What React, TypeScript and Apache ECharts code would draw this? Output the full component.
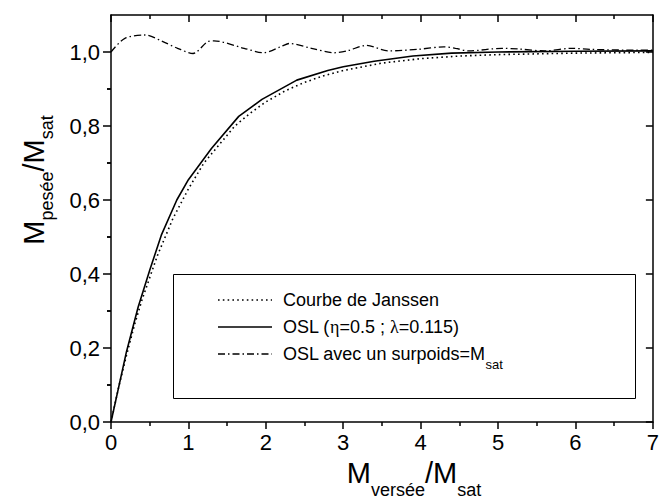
import React, { useEffect, useRef } from "react";
import * as echarts from "echarts";

// ---------- data ----------
const janssenX = [0, 0.1, 0.2, 0.3, 0.4, 0.5, 0.6, 0.7, 0.8, 0.9, 1.0, 1.2, 1.4, 1.6, 1.8, 2.0, 2.25, 2.5, 2.75, 3.0, 3.5, 4.0, 4.5, 5.0, 5.5, 6.0, 6.5, 7.0];
const janssenY = [0, 0.095, 0.18, 0.26, 0.33, 0.39, 0.45, 0.5, 0.55, 0.59, 0.63, 0.7, 0.75, 0.8, 0.835, 0.865, 0.895, 0.918, 0.936, 0.95, 0.97, 0.982, 0.989, 0.993, 0.995, 0.997, 0.998, 0.999];

const oslX = [0, 0.1, 0.2, 0.35, 0.5, 0.65, 0.85, 1.0, 1.3, 1.65, 1.95, 2.4, 2.8, 3.0, 3.4, 3.9, 4.4, 5.0, 6.0, 7.0];
const oslY = [0, 0.095, 0.19, 0.31, 0.41, 0.505, 0.6, 0.655, 0.74, 0.826, 0.872, 0.924, 0.95, 0.96, 0.975, 0.989, 0.997, 1.0, 1.002, 1.003];

const surpoidsX = [0, 0.18, 0.44, 0.67, 0.86, 1.06, 1.25, 1.33, 1.72, 1.97, 2.21, 2.3, 2.59, 2.89, 3.05, 3.3, 3.58, 3.96, 4.3, 4.45, 4.62, 5.05, 5.27, 5.6, 5.95, 6.2, 6.8, 7.0];
const surpoidsY = [1.0, 1.037, 1.046, 1.028, 1.01, 0.996, 1.028, 1.03, 1.01, 0.998, 1.016, 1.023, 1.01, 0.998, 1.003, 1.018, 1.003, 1.007, 1.014, 1.01, 1.003, 1.01, 1.008, 1.003, 1.01, 1.007, 1.005, 1.005];

const yTicks = [0, 0.2, 0.4, 0.6, 0.8, 1.0];
const yMinorTicks = [0.1, 0.3, 0.5, 0.7, 0.9];

const legendJanssen = "Courbe de Janssen";
const legendOslParts = ["OSL (", "η", "=0.5 ; ", "λ", "=0.115)"];
const legendSurpoids = "OSL avec un surpoids=M";
const subSat = "sat";
const xTitleParts = ["M", "versée", "/M", "sat"];
const yTitleParts = ["M", "pesée", "/M", "sat"];

// ---------- layout ----------
const W = 662;
const H = 501;
const FONT = "'Liberation Sans', Arial, Helvetica, sans-serif";
const SERIF = "'Liberation Serif', 'Times New Roman', serif";
const GRID = { left: 111, top: 15, right: 5, bottom: 79 };

function measure(text: string, size: number, family: string = FONT): number {
  const ctx = document.createElement("canvas").getContext("2d")!;
  ctx.font = `${size}px ${family}`;
  return ctx.measureText(text).width;
}

const BL = 0.35; // baseline offset from middle, in em

function subTitleChildren(parts: string[], big: number, small: number, drop: number) {
  const widths = parts.map((p, i) => measure(p, i % 2 === 0 ? big : small));
  const total = widths.reduce((a, b) => a + b, 0);
  let x = -total / 2;
  const children: any[] = [];
  parts.forEach((p, i) => {
    const isSub = i % 2 === 1;
    const fs = isSub ? small : big;
    const baseline = isSub ? drop : 0;
    children.push({
      type: "text",
      x,
      y: baseline - BL * fs,
      style: { text: p, fontSize: fs, fontFamily: FONT, fill: "#000", align: "left", verticalAlign: "middle" },
    });
    x += widths[i];
  });
  return children;
}

export default function App() {
  const ref = useRef<HTMLDivElement>(null);

  useEffect(() => {
    const chart = echarts.init(ref.current!, null, { renderer: "svg" });

    const axisCommon = {
      type: "value" as const,
      axisLine: { show: true, onZero: false, lineStyle: { color: "#000", width: 1.5 } },
      splitLine: { show: false },
      minorSplitLine: { show: false },
    };
    const tickStyle = { color: "#000", width: 1.5 };
    const fmt = (v: number) => v.toFixed(1).replace(".", ",");
    const tickFs = 22;

    // legend
    const legX = 173.5, legY = 274.5, legW = 462, legH = 124;
    const rows = [300, 327, 354];
    const lineX1 = 218, lineX2 = 272, textX = 283, legFs = 18;
    const legendChildren: any[] = [
      { type: "rect", shape: { x: legX, y: legY, width: legW, height: legH }, style: { fill: "#fff", stroke: "#000", lineWidth: 1 } },
      { type: "line", shape: { x1: lineX1, y1: rows[0], x2: lineX2, y2: rows[0] }, style: { stroke: "#000", lineWidth: 1.6, lineDash: [1.6, 3.2] } },
      { type: "line", shape: { x1: lineX1, y1: rows[1], x2: lineX2, y2: rows[1] }, style: { stroke: "#000", lineWidth: 1.6 } },
      { type: "line", shape: { x1: lineX1, y1: rows[2], x2: lineX2, y2: rows[2] }, style: { stroke: "#000", lineWidth: 1.3, lineDash: [7, 3, 1.5, 3] } },
      { type: "text", x: textX, y: rows[0], style: { text: legendJanssen, fontSize: legFs, fontFamily: FONT, fill: "#000", verticalAlign: "middle" } },
    ];
    let ox = textX;
    legendOslParts.forEach((p, i) => {
      const fam = i % 2 === 1 ? SERIF : FONT;
      legendChildren.push({ type: "text", x: ox, y: rows[1], style: { text: p, fontSize: legFs, fontFamily: fam, fill: "#000", verticalAlign: "middle" } });
      ox += measure(p, legFs, fam);
    });
    legendChildren.push({ type: "text", x: textX, y: rows[2], style: { text: legendSurpoids, fontSize: legFs, fontFamily: FONT, fill: "#000", verticalAlign: "middle" } });
    const sw = measure(legendSurpoids, legFs);
    legendChildren.push({ type: "text", x: textX + sw, y: rows[2] + BL * legFs + 9 - BL * 13, style: { text: subSat, fontSize: 13, fontFamily: FONT, fill: "#000", verticalAlign: "middle" } });

    const option: any = {
      animation: false,
      backgroundColor: "#fff",
      grid: { ...GRID, containLabel: false },
      xAxis: [
        {
          ...axisCommon,
          position: "bottom",
          min: 0,
          max: 7,
          interval: 1,
          axisTick: { show: true, inside: false, length: 7, lineStyle: tickStyle },
          minorTick: { show: true, splitNumber: 2, length: 4, lineStyle: tickStyle },
          axisLabel: { show: true, color: "#000", fontSize: tickFs, fontFamily: FONT, margin: 9 },
        },
        {
          ...axisCommon,
          position: "top",
          min: 0,
          max: 7,
          interval: 1,
          axisTick: { show: true, inside: true, length: 7, lineStyle: tickStyle },
          minorTick: { show: true, splitNumber: 2, length: 4, lineStyle: tickStyle },
          axisLabel: { show: false },
        },
      ],
      yAxis: [
        {
          ...axisCommon,
          position: "left",
          min: 0,
          max: 1.1,
          axisTick: { show: true, inside: false, length: 8, lineStyle: tickStyle, customValues: yTicks },
          axisLabel: { show: true, color: "#000", fontSize: tickFs, fontFamily: FONT, margin: 11, customValues: yTicks, formatter: fmt },
        },
        {
          ...axisCommon,
          position: "left",
          min: 0,
          max: 1.1,
          axisLine: { show: false },
          axisTick: { show: true, inside: false, length: 4, lineStyle: tickStyle, customValues: yMinorTicks },
          axisLabel: { show: false, customValues: yMinorTicks },
        },
        {
          ...axisCommon,
          position: "right",
          min: 0,
          max: 1.1,
          axisTick: { show: true, inside: true, length: 7, lineStyle: tickStyle, customValues: yTicks },
          axisLabel: { show: false, customValues: yTicks },
        },
        {
          ...axisCommon,
          position: "right",
          min: 0,
          max: 1.1,
          axisLine: { show: false },
          axisTick: { show: true, inside: true, length: 4, lineStyle: tickStyle, customValues: yMinorTicks },
          axisLabel: { show: false, customValues: yMinorTicks },
        },
      ],
      series: [
        {
          name: "Courbe de Janssen",
          type: "line",
          xAxisIndex: 0,
          yAxisIndex: 0,
          symbol: "none",
          data: janssenX.map((x, i) => [x, janssenY[i]]),
          lineStyle: { color: "#000", width: 1.6, type: [1.6, 3.2] },
          z: 3,
        },
        {
          name: "OSL",
          type: "line",
          xAxisIndex: 0,
          yAxisIndex: 0,
          symbol: "none",
          data: oslX.map((x, i) => [x, oslY[i]]),
          lineStyle: { color: "#000", width: 1.6, type: "solid" },
          z: 4,
        },
        {
          name: "OSL avec un surpoids",
          type: "line",
          xAxisIndex: 0,
          yAxisIndex: 0,
          symbol: "none",
          smooth: 0.3,
          data: surpoidsX.map((x, i) => [x, surpoidsY[i]]),
          lineStyle: { color: "#000", width: 1.3, type: [7, 3, 1.5, 3] },
          z: 3,
        },
      ],
      graphic: [
        { type: "group", children: legendChildren, z: 10 },
        { type: "group", x: 414, y: 483, children: subTitleChildren(xTitleParts, 29, 18, 13), z: 10 },
        { type: "group", x: 44, y: 180, rotation: Math.PI / 2, children: subTitleChildren(yTitleParts, 29, 18, 9), z: 10 },
      ],
    };

    chart.setOption(option);
    return () => chart.dispose();
  }, []);

  return <div ref={ref} style={{ position: "absolute", left: 0, top: 0, width: W, height: H, background: "#fff" }} />;
}
